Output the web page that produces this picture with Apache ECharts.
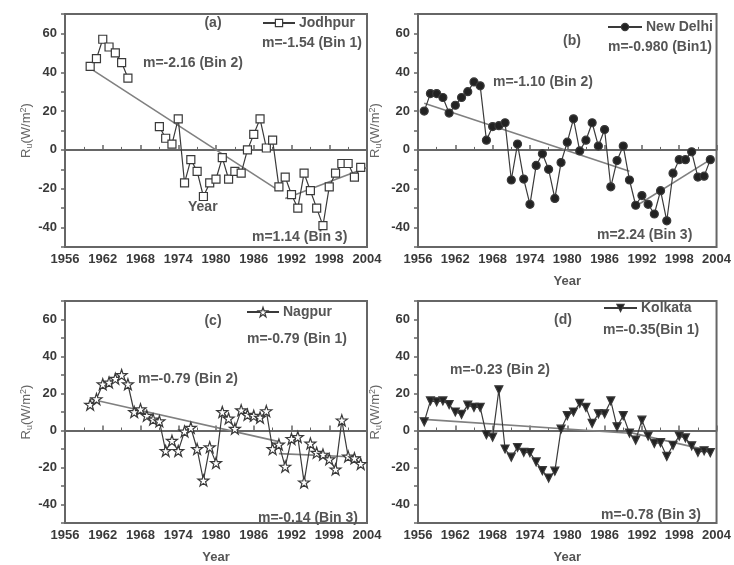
<!DOCTYPE html>
<html>
<head>
<meta charset="utf-8">
<script src="https://cdn.jsdelivr.net/npm/echarts@6/dist/echarts.min.js"></script>
<style>
html,body{margin:0;padding:0;background:#fff;}
#chart{width:734px;height:565px;}
</style>
</head>
<body>
<div id="chart"></div>
<script>
// ---------- DATA ----------
var years = [1956,1957,1958,1959,1960,1961,1962,1963,1964,1965,1966,1967,1968,1969,1970,1971,1972,1973,1974,1975,1976,1977,1978,1979,1980,1981,1982,1983,1984,1985,1986,1987,1988,1989,1990,1991,1992,1993,1994,1995,1996,1997,1998,1999,2000,2001,2002,2003];

var jodhpur = [null,null,null,null,43,47,57,53,50,45,37,null,null,null,null,12,6,3,16,-17,-5,-11,-24,-17,-15,-4,-15,-11,-12,0,8,16,1,5,-19,-14,-23,-30,-12,-21,-30,-39,-19,-12,-7,-7,-14,-9];
var newDelhi = [null,20,29,29,27,19,23,27,30,35,33,5,12,12.5,14,-15.5,3,-15,-28,-8,-2,-10,-25,-6.5,4,16,-0.5,5,14,2,10.5,-19,-5.5,2,-15.5,-28.5,-23.5,-28,-33,-21,-36.5,-12,-5,-5,-1,-14,-13.5,-5];
var nagpur = [null,null,null,null,14,17,25,26,28,30,25,10,11.5,8,6,5,-11,-5.5,-11,-0.5,1.5,-10,-27,-9,-17.5,10,6.5,1,11,8.5,8,7,10.5,-10,-7.5,-19.5,-4.5,-3.5,-28,-7,-12,-13,-15.5,-21,5.5,-14,-15,-18];
var kolkata = [null,4.7,16,15.5,16,14,10,8.7,13.7,12.5,12.5,-2.3,-3.6,22,-10,-14.4,-9.2,-11.8,-12,-17,-21.7,-25.7,-22,0.7,8,10,14.7,12.5,3.8,9,9,16,2,8,-1.4,-5.2,5.6,-3,-7,-6.6,-14,-8,-3,-4,-8.3,-11.8,-11,-12];

// trend lines (fit endpoints): [year, value]
var trendA2 = [[1960,42],[1990,-21]];
var trendA3 = [[1991,-25],[2004,-9]];
var trendB2 = [[1957,24],[1990,-11]];
var trendB3 = [[1991,-29],[2003,-5]];
var trendC2 = [[1960,17],[1990,-6]];
var trendC3 = [[1990,-12.5],[2003,-14.5]];
var trendD2 = [[1957,6],[1990,-1.5]];
var trendD3 = [[1990,-1],[2003,-11]];

var stationNames = ['Jodhpur','New Delhi','Nagpur','Kolkata'];
var xTickMin = 1956, xTickMax = 2004, xTickStep = 6;
var yMin = -50, yMax = 70, yStep = 10, yLabelStep = 20;

// ---------- STYLE ----------
var TXT = '#3a3a3a', ANN = '#555', FRAME = '#666', DLINE = '#3a3a3a', TLINE = '#808080';
var FONT = '"Liberation Sans", Arial, sans-serif';

var grids = [
  {left:65, top:14, width:302, height:233},
  {left:418, top:14, width:304, height:233},
  {left:65, top:301, width:302, height:231},
  {left:418, top:301, width:303, height:231}
];

function pairs(vals){ return years.map(function(y,i){ return [y, vals[i]]; }); }

var xAxes = [], yAxes = [];
for (var i=0;i<4;i++){
  grids[i].show = true; grids[i].borderColor = FRAME; grids[i].borderWidth = 2; grids[i].containLabel = false;
  xAxes.push({
    gridIndex:i, type:'value', min:xTickMin, max:xTickMax, interval:xTickStep,
    name: i===0 ? '' : 'Year', nameLocation:'middle', nameGap:28,
    nameTextStyle:{color:ANN, fontFamily:FONT, fontSize:13, fontWeight:'bold'},
    axisLine:{show:true, lineStyle:{color:FRAME, width:2}},
    axisTick:{show:true, inside:true, length:5, lineStyle:{color:FRAME, width:1.5}},
    minorTick:{show:true, splitNumber:2, length:3, lineStyle:{color:FRAME}},
    axisLabel:{color:TXT, fontFamily:FONT, fontSize:13, fontWeight:'bold', margin:6, showMinLabel:true, showMaxLabel:true,
      formatter:function(v){ return String(v); }},
    splitLine:{show:false}
  });
  yAxes.push({
    gridIndex:i, type:'value', min:yMin, max:yMax, interval:yStep,
    name:'{r|R}{s|u}{r|(W/m}{p|2}{r|)}', nameLocation:'middle', nameGap: (i%2===0)?29:35, nameRotate:90,
    nameTextStyle:{color:ANN, fontFamily:FONT, rich:{
      r:{fontSize:13, color:'#666', fontFamily:FONT},
      s:{fontSize:9, color:'#666', fontFamily:FONT, verticalAlign:'bottom', padding:[6,0,0,0]},
      p:{fontSize:9, color:'#666', fontFamily:FONT, verticalAlign:'top', padding:[0,0,6,0]}
    }},
    axisLine:{show:true, lineStyle:{color:FRAME, width:2}},
    axisTick:{show:true, inside:false, length:4, lineStyle:{color:FRAME, width:1.5}},
    axisLabel:{color:TXT, fontFamily:FONT, fontSize:13, fontWeight:'bold', margin:8,
      formatter:function(v){ return (v % yLabelStep === 0) ? String(v) : ''; }},
    splitLine:{show:false}
  });
}

var starPath = 'path://M50,2 L61.8,37 L98,37 L68.8,58.8 L79.6,94 L50,72.5 L20.4,94 L31.2,58.8 L2,37 L38.2,37 Z';
var fills = ['#fff','#222','#fff','#222'];

function dataSeries(name, idx, vals, symbol, size, fill, rot){
  return {
    name:name, type:'line', xAxisIndex:idx, yAxisIndex:idx, data:pairs(vals),
    symbol:symbol, symbolSize:size, symbolRotate:rot||0, showAllSymbol:true, connectNulls:false,
    lineStyle:{color:DLINE, width:1.2},
    itemStyle:{color:fill, borderColor:DLINE, borderWidth:1.2},
    z:5, animation:false
  };
}
function trend(idx, d){
  return {type:'line', xAxisIndex:idx, yAxisIndex:idx, data:d, symbol:'none',
    lineStyle:{color:TLINE, width:1.6}, z:3, animation:false, silent:true};
}

var series = [
  dataSeries(stationNames[0],0,jodhpur,'rect',8,fills[0]),
  dataSeries(stationNames[1],1,newDelhi,'circle',8,fills[1]),
  dataSeries(stationNames[2],2,nagpur,starPath,11,fills[2]),
  dataSeries(stationNames[3],3,kolkata,'triangle',8,fills[3],180),
  trend(0,trendA2), trend(0,trendA3),
  trend(1,trendB2), trend(1,trendB3),
  trend(2,trendC2), trend(2,trendC3),
  trend(3,trendD2), trend(3,trendD3)
];

function leg(k, left, top, w, h){
  return {data:[{name:stationNames[k], itemStyle:{color:fills[k], borderColor:DLINE, borderWidth:1.2}}],
    left:left, top:top, padding:0, itemWidth:w, itemHeight:h||9, itemGap:0,
    selectedMode:false, textStyle:{color:ANN, fontFamily:FONT, fontSize:14, fontWeight:'bold', padding:[0,0,0,-1]}};
}
var legends = [
  leg(0, 262, 16, 32),
  leg(1, 607, 20, 34),
  leg(2, 246, 305, 32, 12),
  leg(3, 603, 301, 33)
];

function txt(x, y, s, align){
  return {type:'text', x:x, y:y, silent:true, z:20,
    style:{text:s, x:0, y:0, fill:ANN, font:'bold 14px ' + FONT, textAlign:align||'left', textVerticalAlign:'middle'}};
}
var annotations = [
  txt(213,23,'(a)','center'), txt(262,43,'m=-1.54 (Bin 1)'), txt(143,63,'m=-2.16 (Bin 2)'), txt(252,237,'m=1.14 (Bin 3)'), txt(188,207,'Year'),
  txt(572,41,'(b)','center'), txt(608,47,'m=-0.980 (Bin1)'), txt(493,82,'m=-1.10 (Bin 2)'), txt(597,235,'m=2.24 (Bin 3)'),
  txt(213,321,'(c)','center'), txt(247,339,'m=-0.79 (Bin 1)'), txt(138,379,'m=-0.79 (Bin 2)'), txt(258,518,'m=-0.14 (Bin 3)'),
  txt(563,320,'(d)','center'), txt(603,330,'m=-0.35(Bin 1)'), txt(450,370,'m=-0.23 (Bin 2)'), txt(601,515,'m=-0.78 (Bin 3)')
];

var chart = echarts.init(document.getElementById('chart'), null, {renderer:'canvas'});
chart.setOption({
  backgroundColor:'#fff',
  animation:false,
  grid:grids, xAxis:xAxes, yAxis:yAxes, series:series, legend:legends,
  graphic:annotations
});
</script>
</body>
</html>
